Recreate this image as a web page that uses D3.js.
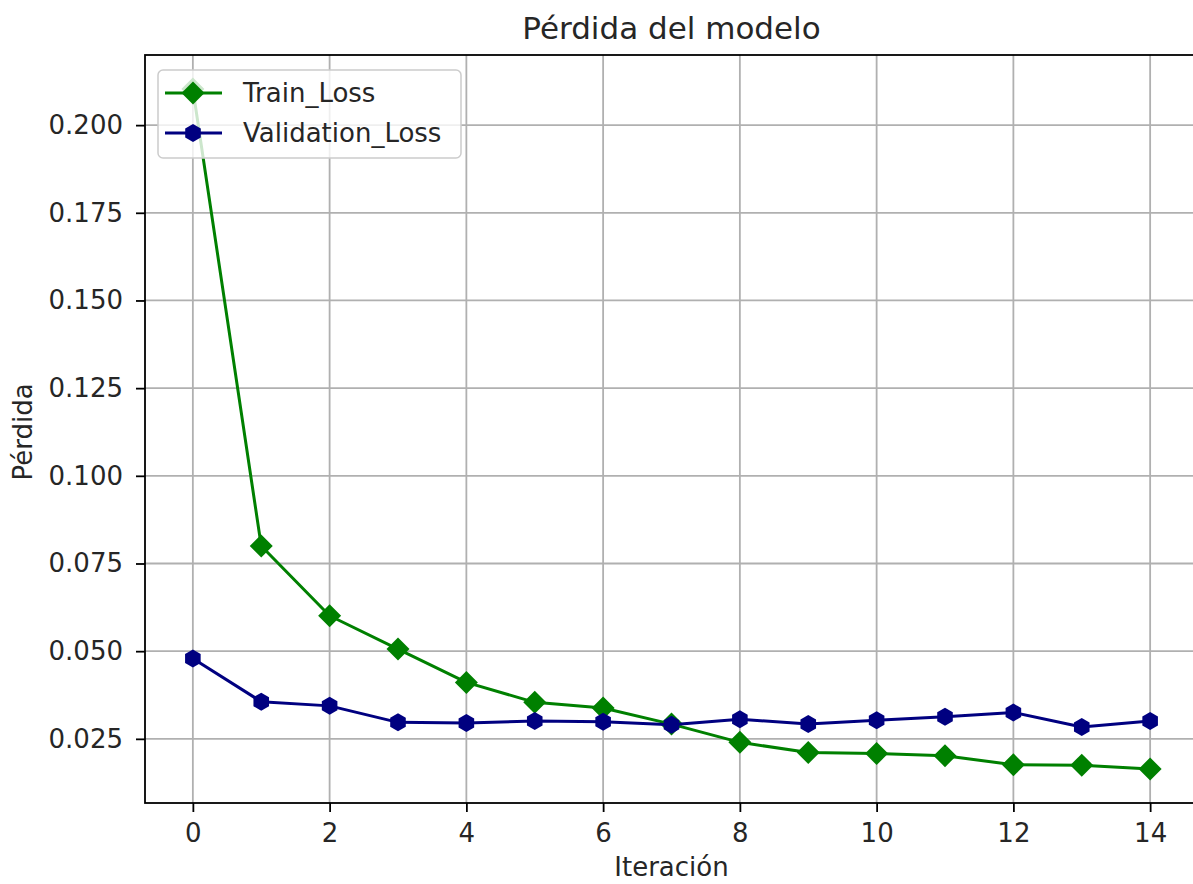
<!DOCTYPE html>
<html>
<head>
<meta charset="utf-8">
<script src="https://cdn.jsdelivr.net/npm/d3@7"></script>
<style>
  body { margin: 0; background: #fff; }
  svg text { font-family: "DejaVu Sans", sans-serif; fill: #262626; }
</style>
</head>
<body>
<script>
// data
var iterations = [0, 1, 2, 3, 4, 5, 6, 7, 8, 9, 10, 11, 12, 13, 14];
var train_loss = [0.2103, 0.0800, 0.0601, 0.0506, 0.0411, 0.0354, 0.0338, 0.0292, 0.0240, 0.0211, 0.0208, 0.0202, 0.0176, 0.0175, 0.0164];
var val_loss = [0.0479, 0.0356, 0.0344, 0.0297, 0.0295, 0.0301, 0.0299, 0.0290, 0.0306, 0.0292, 0.0303, 0.0313, 0.0325, 0.0284, 0.0301];
var x_ticks = [0, 2, 4, 6, 8, 10, 12, 14];
var y_ticks = [0.025, 0.050, 0.075, 0.100, 0.125, 0.150, 0.175, 0.200];
var series_names = ["Train_Loss", "Validation_Loss"];
var series_colors = ["#008000", "#000080"];

var W = 1193, H = 884;
// plot box (window.top is read-only, so use own names)
var ax_l = 145, ax_r = 1198, ax_t = 55, ax_b = 803;
var fs = 26;

var svg = d3.select("body").append("svg")
  .attr("width", W).attr("height", H);

var x = d3.scaleLinear().domain([-0.7, 14.7]).range([ax_l, ax_r]);
var all = train_loss.concat(val_loss);
var lo = d3.min(all), hi = d3.max(all), pad = (hi - lo) * 0.05;
var y = d3.scaleLinear().domain([lo - pad, hi + pad]).range([ax_b, ax_t]);

// grid
svg.append("g").selectAll("line").data(x_ticks).enter().append("line")
  .attr("x1", d => x(d)).attr("x2", d => x(d))
  .attr("y1", ax_t).attr("y2", ax_b)
  .style("stroke", "#b0b0b0").style("stroke-width", 1.8);
svg.append("g").selectAll("line").data(y_ticks).enter().append("line")
  .attr("x1", ax_l).attr("x2", ax_r)
  .attr("y1", d => y(d)).attr("y2", d => y(d))
  .style("stroke", "#b0b0b0").style("stroke-width", 1.8);

// axes
var xAxis = d3.axisBottom(x).tickValues(x_ticks).tickSize(9).tickPadding(12).tickFormat(d3.format("d"));
var yAxis = d3.axisLeft(y).tickValues(y_ticks).tickSize(9).tickPadding(13).tickFormat(d3.format(".3f"));

var gx = svg.append("g").attr("transform", "translate(0," + ax_b + ")").call(xAxis);
var gy = svg.append("g").attr("transform", "translate(" + ax_l + ",0)").call(yAxis);
[gx, gy].forEach(function(g){
  g.select(".domain").remove();
  g.selectAll("line").style("stroke", "#000").style("stroke-width", 1.8);
  g.selectAll("text").style("font-size", fs + "px").style("fill", "#262626")
    .style("font-family", "'DejaVu Sans', sans-serif");
});

// frame
svg.append("rect")
  .attr("x", ax_l).attr("y", ax_t).attr("width", ax_r - ax_l).attr("height", ax_b - ax_t)
  .style("fill", "none").style("stroke", "#000").style("stroke-width", 1.8);

// marker shapes
var diamond = function(s){ return "M0," + (-s) + "L" + s + ",0L0," + s + "L" + (-s) + ",0Z"; };
var hexagon = function(r){
  var pts = d3.range(6).map(function(k){
    var a = Math.PI / 2 + k * Math.PI / 3;
    return [r * Math.cos(a), r * Math.sin(a)];
  });
  return "M" + pts.join("L") + "Z";
};
var markers = [diamond(11.5), hexagon(9)];

var line = d3.line().x((d, i) => x(iterations[i])).y(d => y(d));
[train_loss, val_loss].forEach(function(vals, k){
  svg.append("path").datum(vals).attr("d", line)
    .style("fill", "none").style("stroke", series_colors[k]).style("stroke-width", 3)
    .style("stroke-linejoin", "round");
  svg.append("g").selectAll("path").data(vals).enter().append("path")
    .attr("d", markers[k])
    .attr("transform", (d, i) => "translate(" + x(iterations[i]) + "," + y(d) + ")")
    .style("fill", series_colors[k]);
});

// legend
var lg = svg.append("g");
lg.append("rect")
  .attr("x", 158).attr("y", 70).attr("width", 303).attr("height", 88).attr("rx", 5)
  .style("fill", "#fff").style("fill-opacity", 0.8)
  .style("stroke", "#cccccc").style("stroke-width", 1.5);
series_names.forEach(function(name, k){
  var ly = 93 + k * 40;
  lg.append("line").attr("x1", 165).attr("x2", 222).attr("y1", ly).attr("y2", ly)
    .style("stroke", series_colors[k]).style("stroke-width", 3);
  lg.append("path").attr("d", markers[k]).attr("transform", "translate(193," + ly + ")")
    .style("fill", series_colors[k]);
  lg.append("text").attr("x", 243).attr("y", ly).attr("dy", "0.35em")
    .style("font-size", fs + "px").text(name);
});

// labels
svg.append("text").attr("x", (ax_l + ax_r) / 2).attr("y", 39)
  .attr("text-anchor", "middle").style("font-size", "31px").text("Pérdida del modelo");
svg.append("text").attr("x", (ax_l + ax_r) / 2).attr("y", 876)
  .attr("text-anchor", "middle").style("font-size", fs + "px").text("Iteración");
svg.append("text").attr("transform", "translate(32," + ((ax_t + ax_b) / 2 + 3) + ") rotate(-90)")
  .attr("text-anchor", "middle").style("font-size", fs + "px").text("Pérdida");
</script>
</body>
</html>
